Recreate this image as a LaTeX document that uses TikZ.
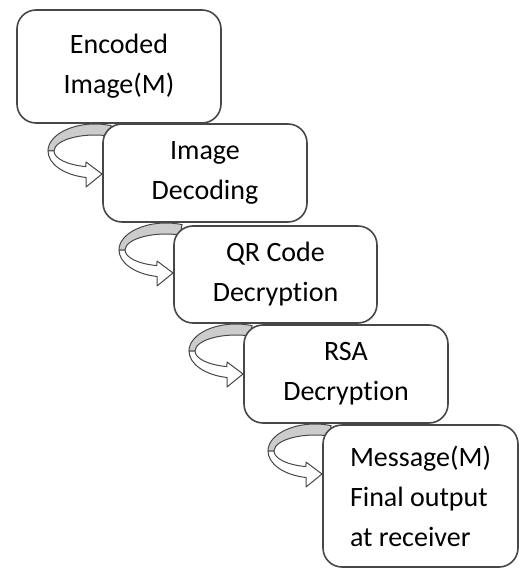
\documentclass[tikz,border=0pt]{standalone}
\usepackage{fontspec}
\setmainfont[Ligatures=NoCommon]{Carlito}
\usetikzlibrary{calc}
\tikzset{
  box/.style={draw=black!72, line width=1.6pt, rounded corners=19pt, fill=white,
    align=center, font=\fontsize{28}{40}\selectfont, inner sep=0pt, text=black},
  twistline/.style={draw=black!72, line width=1pt, line join=round},
  twist/.pic={
    \filldraw[twistline, fill=black!20]
      ($(-8,28)+(-70:47 and 27)$) arc[start angle=-70, end angle=-180, x radius=47, y radius=27]
      -- ($(-8,28)+(180:41 and 16)$) arc[start angle=-180, end angle=-70, x radius=41, y radius=16]
      -- cycle;
    \filldraw[twistline, fill=white]
      ($(-8,28)+(180:47 and 27)$) arc[start angle=180, end angle=101, x radius=47, y radius=27]
      -- (-17,64) -- (-1,51) -- (-17,39)
      -- ($(-8,28)+(102.7:41 and 16)$) arc[start angle=102.7, end angle=180, x radius=41, y radius=16]
      -- cycle;
  }
}
\begin{document}
\begin{tikzpicture}[x=1pt, y=-1pt]
\useasboundingbox (0,0) rectangle (524,569);
\coordinate (t1) at (103,123);
\coordinate (t2) at (174,222);
\coordinate (t3) at (244,323);
\coordinate (t4) at (323,423);
\node[box, minimum width=204pt, minimum height=113pt] (b1) at (119,66.5) {Encoded\\Image(M)};
\pic at (t1) {twist};
\node[box, minimum width=204pt, minimum height=98pt] (b2) at (205,173) {Image\\Decoding};
\pic at (t2) {twist};
\node[box, minimum width=203pt, minimum height=97pt] (b3) at (275.5,274.5) {QR Code\\Decryption};
\pic at (t3) {twist};
\node[box, minimum width=204pt, minimum height=98pt] (b4) at (346,374) {RSA\\Decryption};
\pic at (t4) {twist};
\node[box, align=left, minimum width=195pt, minimum height=142pt] (b5) at (420.5,496) {Message(M)\\Final output\\at receiver};
\end{tikzpicture}
\end{document}
